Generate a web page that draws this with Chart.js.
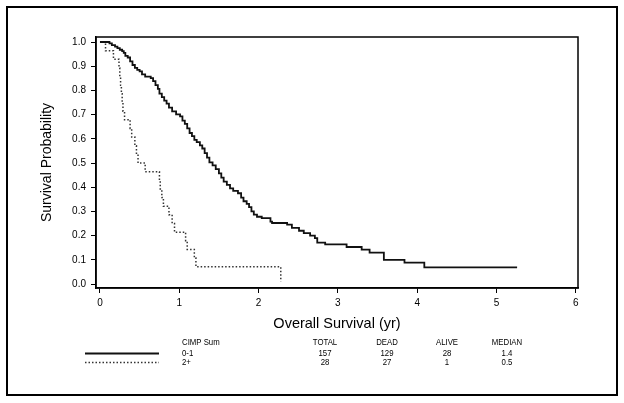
<!DOCTYPE html>
<html>
<head>
<meta charset="utf-8">
<script src="https://cdn.jsdelivr.net/npm/chart.js@4.4.1/dist/chart.umd.min.js"></script>
<style>
  html, body { margin: 0; padding: 0; background: #fff; }
  #wrap { width: 624px; height: 403px; }
</style>
</head>
<body>
<div id="wrap"><canvas id="km" width="624" height="403"></canvas></div>
<script>
// Kaplan-Meier steps: time (yr) and survival after each drop
const times01 = [0, 0.12, 0.15, 0.19, 0.22, 0.25, 0.28, 0.30, 0.32, 0.35, 0.38, 0.41, 0.44, 0.47, 0.50,
  0.53, 0.57, 0.64, 0.67, 0.70, 0.73, 0.75, 0.78, 0.81, 0.84, 0.87, 0.91, 0.96, 1.01, 1.04, 1.07,
  1.10, 1.13, 1.16, 1.19, 1.22, 1.26, 1.29, 1.32, 1.35, 1.38, 1.42, 1.46, 1.50, 1.53, 1.56, 1.60,
  1.64, 1.68, 1.74, 1.78, 1.81, 1.85, 1.88, 1.91, 1.94, 1.98, 2.04, 2.15, 2.17, 2.36, 2.42, 2.51,
  2.57, 2.65, 2.71, 2.74, 2.84, 3.11, 3.30, 3.40, 3.58, 3.84, 4.09, 5.26];
const surv01 = [1.0, 0.994, 0.987, 0.981, 0.975, 0.968, 0.962, 0.955, 0.943, 0.936, 0.920, 0.905, 0.893, 0.885, 0.879,
  0.866, 0.857, 0.851, 0.838, 0.822, 0.806, 0.787, 0.772, 0.758, 0.745, 0.729, 0.713, 0.701, 0.693, 0.675, 0.662,
  0.643, 0.624, 0.611, 0.596, 0.586, 0.573, 0.560, 0.541, 0.522, 0.503, 0.490, 0.475, 0.457, 0.440, 0.423, 0.410,
  0.395, 0.385, 0.375, 0.357, 0.342, 0.331, 0.318, 0.300, 0.287, 0.278, 0.272, 0.258, 0.252, 0.245, 0.232, 0.220,
  0.210, 0.200, 0.190, 0.171, 0.164, 0.153, 0.142, 0.130, 0.100, 0.088, 0.069, 0.069];

const times2p = [0, 0.07, 0.17, 0.24, 0.25, 0.26, 0.27, 0.28, 0.29, 0.31, 0.38, 0.40, 0.44, 0.46, 0.48,
  0.57, 0.75, 0.76, 0.78, 0.80, 0.87, 0.91, 0.94, 1.08, 1.10, 1.19, 1.21, 2.28];
const surv2p = [1.0, 0.964, 0.929, 0.893, 0.857, 0.821, 0.786, 0.750, 0.714, 0.679, 0.643, 0.607, 0.571, 0.536, 0.500,
  0.464, 0.429, 0.393, 0.357, 0.321, 0.286, 0.250, 0.214, 0.179, 0.143, 0.107, 0.071, 0.01];

const xTicks = [0, 1, 2, 3, 4, 5, 6];
const yTicks = [0, 0.1, 0.2, 0.3, 0.4, 0.5, 0.6, 0.7, 0.8, 0.9, 1.0];

// summary table under the plot
const groups = ['0-1', '2+'];
const totals = [157, 28];
const dead = [129, 27];
const alive = [28, 1];
const medians = ['1.4', '0.5'];

const toPoints = (ts, ss) => ts.map((t, i) => ({ x: t, y: ss[i] }));
const font = "'Liberation Sans', Arial, Helvetica, sans-serif";

// outer frame, plot box and the group table
const extras = {
  id: 'extras',
  beforeDraw(chart) {
    const ctx = chart.ctx;
    ctx.save();
    ctx.fillStyle = '#fff';
    ctx.fillRect(0, 0, chart.width, chart.height);
    ctx.restore();
  },
  afterDraw(chart) {
    const { ctx, chartArea: a } = chart;
    ctx.save();
    ctx.strokeStyle = '#000';
    ctx.lineWidth = 2;
    ctx.strokeRect(7, 7, 610, 388);
    ctx.lineWidth = 1.5;
    ctx.strokeRect(a.left, a.top, a.right - a.left, a.bottom - a.top);

    // legend lines
    const rowsY = [353, 362];
    chart.data.datasets.forEach((ds, i) => {
      ctx.beginPath();
      ctx.strokeStyle = ds.borderColor;
      ctx.lineWidth = ds.borderWidth;
      ctx.setLineDash(ds.borderDash || []);
      ctx.moveTo(85, rowsY[i] + 0.5);
      ctx.lineTo(159, rowsY[i] + 0.5);
      ctx.stroke();
    });
    ctx.setLineDash([]);

    // table text, slightly condensed like the original
    const cell = (txt, x, y, align) => {
      ctx.save();
      ctx.translate(x, y);
      ctx.scale(0.82, 1);
      ctx.textAlign = align;
      ctx.fillText(txt, 0, 0);
      ctx.restore();
    };
    ctx.fillStyle = '#000';
    ctx.font = '9.5px ' + font;
    ctx.textBaseline = 'middle';
    const cols = [325, 387, 447, 507];
    cell('CIMP Sum', 182, 342.5, 'left');
    ['TOTAL', 'DEAD', 'ALIVE', 'MEDIAN'].forEach((h, j) => cell(h, cols[j], 342.5, 'center'));
    groups.forEach((g, i) => {
      const y = rowsY[i];
      cell(g, 182, y, 'left');
      cell(String(totals[i]), cols[0], y, 'center');
      cell(String(dead[i]), cols[1], y, 'center');
      cell(String(alive[i]), cols[2], y, 'center');
      cell(medians[i], cols[3], y, 'center');
    });
    ctx.restore();
  }
};

new Chart(document.getElementById('km'), {
  type: 'line',
  data: {
    datasets: [
      {
        label: '0-1',
        data: toPoints(times01, surv01),
        stepped: 'before',
        borderColor: '#111',
        borderWidth: 1.8,
        pointRadius: 0,
        fill: false
      },
      {
        label: '2+',
        data: toPoints(times2p, surv2p),
        stepped: 'before',
        borderColor: '#333',
        borderWidth: 1.5,
        borderDash: [1.5, 2],
        pointRadius: 0,
        fill: false
      }
    ]
  },
  options: {
    responsive: false,
    animation: false,
    devicePixelRatio: 1,
    layout: { padding: { top: 37, right: 46, left: 0, bottom: 0 } },
    plugins: { legend: { display: false }, tooltip: { enabled: false } },
    scales: {
      x: {
        type: 'linear',
        min: -0.05,
        max: 6.028,
        afterFit: s => { s.height = 115; },
        afterBuildTicks: s => { s.ticks = xTicks.map(v => ({ value: v })); },
        grid: { drawOnChartArea: false, drawTicks: true, tickLength: 5, color: '#000' },
        border: { display: true, color: '#000', width: 1.5 },
        ticks: { color: '#000', padding: 4, font: { family: font, size: 10 }, maxRotation: 0 },
        title: {
          display: true,
          text: 'Overall Survival (yr)',
          color: '#000',
          font: { family: font, size: 14.5 },
          padding: { top: 0, bottom: 70.8 }
        }
      },
      y: {
        type: 'linear',
        min: -0.0165,
        max: 1.0207,
        afterFit: s => { s.width = 96; },
        afterBuildTicks: s => { s.ticks = yTicks.map(v => ({ value: v })); },
        grid: { drawOnChartArea: false, drawTicks: true, tickLength: 5, color: '#000' },
        border: { display: true, color: '#000', width: 1.5 },
        ticks: {
          color: '#000',
          padding: 5,
          font: { family: font, size: 10 },
          callback: v => Number(v).toFixed(1)
        },
        title: {
          display: true,
          text: 'Survival Probability',
          color: '#000',
          font: { family: font, size: 14 },
          padding: { top: 38.6, bottom: 0 }
        }
      }
    }
  },
  plugins: [extras]
});
</script>
</body>
</html>
